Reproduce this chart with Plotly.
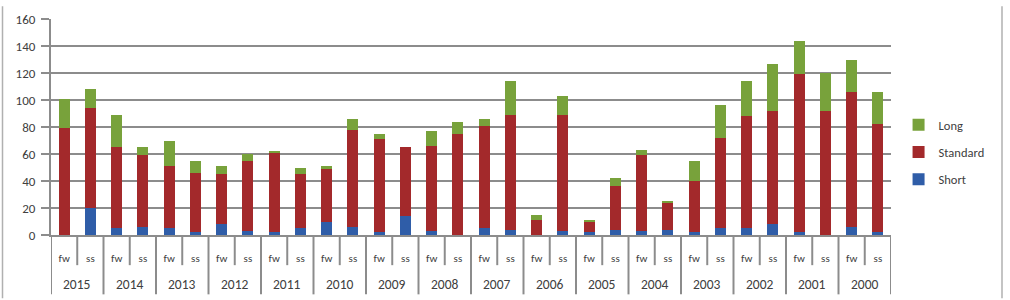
import plotly.graph_objects as go

years = ["2015", "2014", "2013", "2012", "2011", "2010", "2009", "2008",
         "2007", "2006", "2005", "2004", "2003", "2002", "2001", "2000"]
seasons = ["fw", "ss"]

short = [0, 20, 5, 6, 5, 2, 8, 3, 2, 5, 10, 6, 2, 14, 3, 0,
         5, 4, 0, 3, 2, 4, 3, 4, 2, 5, 5, 8, 2, 0, 6, 2]
standard = [79, 74, 60, 53, 46, 44, 37, 52, 59, 40, 39, 72, 69, 51, 63, 75,
            76, 85, 11, 86, 8, 32, 56, 20, 38, 67, 83, 84, 117, 92, 100, 80]
long_ = [22, 14, 24, 6, 19, 9, 6, 5, 1, 5, 2, 8, 4, 0, 11, 9,
         5, 25, 4, 14, 1, 6, 4, 1, 15, 24, 26, 35, 25, 28, 24, 24]

cats = [f"{y} {s}" for y in years for s in seasons]
inner = [s for _ in years for s in seasons]

FONT = "Calibri, Carlito, Lato, 'Open Sans', sans-serif"
GRID = "#8c8c8c"
TXT = "#404040"

# plot area geometry (px)
L, R, T, B = 51, 119, 13, 65
PH = 300 - T - B


def py(p):
    """pixel y (from top) -> paper y"""
    return (300 - B - p) / PH


fig = go.Figure()
series = [("Short", short, "#2f5da8", "legend3"),
          ("Standard", standard, "#a3292b", "legend2"),
          ("Long", long_, "#78a23b", "legend")]
for name, vals, col, lg in series:
    fig.add_trace(go.Bar(x=cats, y=vals, name=name, legend=lg,
                         marker=dict(color=col, line=dict(width=0))))

leg_common = dict(xanchor="left", yanchor="middle", x=1.009,
                  bgcolor="rgba(0,0,0,0)", font=dict(size=12.5, color=TXT),
                  itemwidth=30)
fig.update_layout(
    barmode="stack",
    bargap=0.58,
    width=1010, height=300,
    margin=dict(l=L, r=R, t=T, b=B),
    plot_bgcolor="white", paper_bgcolor="white",
    font=dict(family=FONT, size=12, color=TXT),
    legend=dict(y=py(122), **leg_common),
    legend2=dict(y=py(150), **leg_common),
    legend3=dict(y=py(178), **leg_common),
    showlegend=True,
)
fig.update_yaxes(range=[0, 160], dtick=20, showgrid=True, gridcolor=GRID,
                 gridwidth=1.5, showline=True, linecolor=GRID, linewidth=2,
                 ticks="outside", ticklen=8, tickcolor=GRID, tickwidth=1.5,
                 ticklabelstandoff=3,
                 zeroline=False, tickfont=dict(size=13, color=TXT))
fig.update_xaxes(type="category", categoryorder="array", categoryarray=cats,
                 tickvals=cats, ticktext=inner, ticks="",
                 showline=True, linecolor=GRID, linewidth=2,
                 ticklabelstandoff=12,
                 tickfont=dict(size=11, color=TXT), range=[-0.5, len(cats) - 0.5])

# category separators: short between seasons, long between years
n = len(cats)
for i in range(n + 1):
    long_sep = (i % 2 == 0)
    fig.add_shape(type="line", xref="x", yref="paper",
                  x0=i - 0.5, x1=i - 0.5, y0=0,
                  y1=py(296 if long_sep else 266),
                  line=dict(color=GRID, width=2))
# year labels
for k, yr in enumerate(years):
    fig.add_annotation(x=2 * k + 0.5, xref="x", y=py(286), yref="paper",
                       text=yr, showarrow=False, yanchor="middle",
                       font=dict(size=13.5, color=TXT))
# outer frame lines
for px in [2.5, 1002]:
    xv = (px - L) / (1010 - L - R)
    fig.add_shape(type="line", xref="paper", yref="paper", x0=xv, x1=xv,
                  y0=py(300), y1=py(0), line=dict(color="#b0b0b0", width=1.5))

fig.write_html("out.html")
